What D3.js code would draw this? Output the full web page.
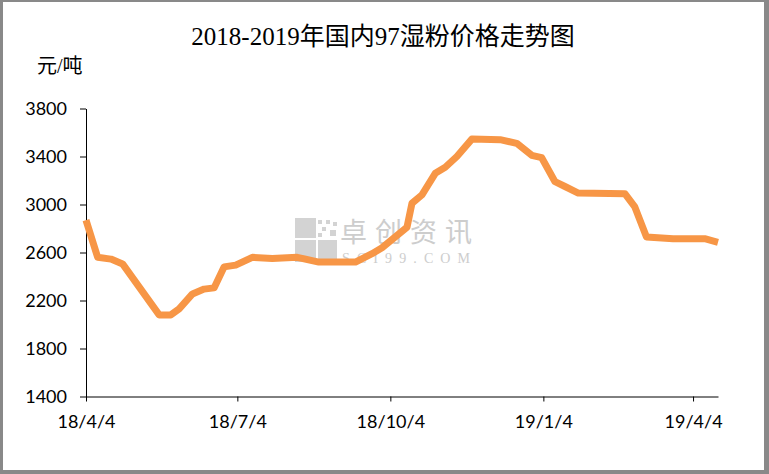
<!DOCTYPE html>
<html>
<head>
<meta charset="utf-8">
<script src="https://cdn.jsdelivr.net/npm/d3@7/dist/d3.min.js"></script>
<style>
  html, body { margin: 0; padding: 0; background: #fff; }
  svg { display: block; }
</style>
</head>
<body>
<svg id="chart" width="769" height="474"></svg>
<script>
// ---- data ----
const title = "2018-2019年国内97湿粉价格走势图";
const unitLabel = "元/吨";
const dates = [
  "2018-04-04","2018-04-11","2018-04-19","2018-04-26","2018-05-18","2018-05-25",
  "2018-05-30","2018-06-07","2018-06-14","2018-06-20","2018-06-26","2018-07-03",
  "2018-07-13","2018-07-25","2018-08-09","2018-08-22","2018-09-13","2018-09-23",
  "2018-09-29","2018-10-14","2018-10-17","2018-10-23","2018-10-31","2018-11-06",
  "2018-11-13","2018-11-22","2018-12-09","2018-12-19","2018-12-28","2019-01-03",
  "2019-01-11","2019-01-17","2019-01-25","2019-02-22","2019-02-28","2019-03-07",
  "2019-03-23","2019-04-11","2019-04-19"
];
const prices = [
  2870, 2560, 2545, 2505, 2080, 2080,
  2130, 2255, 2295, 2305, 2480, 2495,
  2560, 2550, 2560, 2520, 2520, 2590,
  2640, 2810, 3010, 3080, 3260, 3310,
  3400, 3545, 3540, 3510, 3410, 3390,
  3190, 3150, 3095, 3090, 2980, 2730,
  2715, 2715, 2685
];
const yTicks = [1400, 1800, 2200, 2600, 3000, 3400, 3800];
const xTickDates = ["2018-04-04","2018-07-04","2018-10-04","2019-01-04","2019-04-04"];
const xTickLabels = ["18/4/4","18/7/4","18/10/4","19/1/4","19/4/4"];
const xDomain = ["2018-04-04","2019-04-19"];

// ---- chart ----
const parse = d3.timeParse("%Y-%m-%d");
const svg = d3.select("#chart");
const W = 769, H = 474;

// frame
svg.append("rect").attr("x",0).attr("y",0).attr("width",W).attr("height",H).attr("fill","#898989");
svg.append("rect").attr("x",3).attr("y",2).attr("width",761).attr("height",468).attr("fill","#ffffff");

const plot = {left: 86, right: 718, top: 108.5, bottom: 396.5};

const x = d3.scaleTime()
  .domain(xDomain.map(parse))
  .range([plot.left, plot.right]);
const y = d3.scaleLinear()
  .domain([1400, 3800])
  .range([plot.bottom, plot.top]);

// watermark
const wm = svg.append("g").attr("opacity", 0.9);
const wmRects = [
  [295,218,21,20],[295,240,21,22],[318,240,19,22],
  [318,220,4,4],[326,220,4,4],[333,222,4,4],[322,227,4,4],[330,230,6,6],[318,233,4,4]
];
wm.selectAll("rect").data(wmRects).join("rect")
  .attr("x", d=>d[0]).attr("y", d=>d[1]).attr("width", d=>d[2]).attr("height", d=>d[3])
  .attr("fill", "#cfcfcf");
wm.append("text").attr("x", 340).attr("y", 242)
  .attr("font-family", "Noto Sans CJK SC").attr("font-size", 27).attr("fill", "#c8c8c8")
  .attr("textLength", 132).text("卓创资讯");
wm.append("text").attr("x", 342).attr("y", 263)
  .attr("font-family", "Liberation Serif").attr("font-size", 14).attr("fill", "#c8c8c8")
  .attr("textLength", 128).text("SCI99.COM");

// axes
const yAxis = d3.axisLeft(y).tickValues(yTicks).tickFormat(d3.format("d"))
  .tickSize(6).tickSizeOuter(0).tickPadding(13);
const gy = svg.append("g").attr("transform", `translate(${plot.left},0)`).call(yAxis);
gy.select(".domain").attr("stroke", "#000");
gy.selectAll(".tick line").attr("stroke", "#000");
gy.selectAll(".tick text").attr("font-family", "Lato, 'Open Sans', sans-serif")
  .attr("font-size", 18).attr("fill", "#000");

const xAxis = d3.axisBottom(x).tickValues(xTickDates.map(parse))
  .tickFormat((d,i)=>xTickLabels[i]).tickSize(5).tickSizeOuter(0).tickPadding(14);
const gx = svg.append("g").attr("transform", `translate(0,${plot.bottom})`).call(xAxis);
gx.select(".domain").attr("stroke", "#000");
gx.selectAll(".tick line").attr("stroke", "#000");
gx.selectAll(".tick text").attr("font-family", "Lato, 'Open Sans', sans-serif")
  .attr("font-size", 18).attr("fill", "#000");

// line
const data = dates.map((d,i)=>({date: parse(d), value: prices[i]}));
const line = d3.line().x(d=>x(d.date)).y(d=>y(d.value));
svg.append("path").datum(data)
  .attr("d", line)
  .attr("fill", "none")
  .attr("stroke", "#F79646")
  .attr("stroke-width", 7)
  .attr("stroke-linejoin", "round");

// title
svg.append("text").attr("x", 383).attr("y", 45).attr("text-anchor", "middle")
  .attr("font-family", "'Liberation Serif', 'Noto Sans CJK SC', serif")
  .attr("font-size", 25).attr("fill", "#000").text(title);

// unit label
svg.append("text").attr("x", 37).attr("y", 73)
  .attr("font-family", "'Liberation Serif', 'Noto Sans CJK SC', serif")
  .attr("font-size", 20).attr("fill", "#000").text(unitLabel);
</script>
</body>
</html>
